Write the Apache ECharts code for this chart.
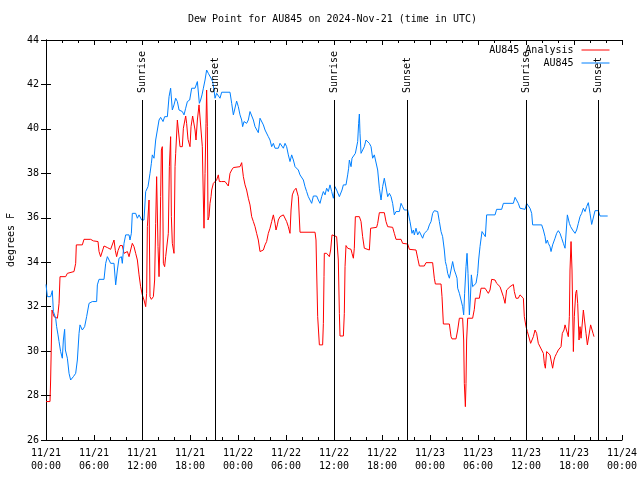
<!DOCTYPE html>
<html>
<head>
<meta charset="utf-8">
<script src="https://cdn.jsdelivr.net/npm/echarts@6/dist/echarts.min.js"></script>
<style>
html,body{margin:0;padding:0;background:#fff;}
#chart{width:640px;height:480px;}
</style>
</head>
<body>
<div id="chart"></div>
<script>
// ---- data (hours since 2024-11-21 00:00 UTC) ----
const titleText = 'Dew Point for AU845 on 2024-Nov-21 (time in UTC)';
const xTickLabels = ['11/21\n00:00','11/21\n06:00','11/21\n12:00','11/21\n18:00','11/22\n00:00','11/22\n06:00','11/22\n12:00','11/22\n18:00','11/23\n00:00','11/23\n06:00','11/23\n12:00','11/23\n18:00','11/24\n00:00'];
const seriesNames = ['AU845 Analysis', 'AU845'];

const analysisHours = [0,0.5,0.58,0.75,1.0,1.21,1.42,1.5,1.63,1.75,2.46,2.67,3.5,3.71,3.79,4.54,4.75,5.58,5.92,6.5,6.63,6.83,7.04,7.25,7.67,8.08,8.29,8.5,8.67,8.83,9.0,9.25,9.54,9.75,9.96,10.17,10.38,10.58,10.79,11.0,11.21,11.42,11.63,11.83,12.04,12.25,12.46,12.58,12.67,12.88,13.0,13.17,13.42,13.58,13.71,13.83,14.0,14.13,14.25,14.33,14.42,14.54,14.67,14.83,14.96,15.17,15.29,15.42,15.58,15.67,15.79,16.0,16.13,16.21,16.42,16.63,16.75,17.04,17.17,17.46,17.58,17.75,18.0,18.13,18.33,18.5,18.63,18.75,18.92,19.13,19.33,19.54,19.67,19.75,19.88,20.0,20.08,20.17,20.25,20.38,20.5,20.63,20.71,20.92,21.13,21.33,21.54,21.67,21.83,21.96,22.17,22.38,22.58,22.79,23.0,23.21,23.42,24.25,24.46,24.67,24.88,25.08,25.29,25.5,25.71,25.92,26.13,26.33,26.54,26.75,26.96,27.17,27.38,27.58,27.79,28.0,28.21,28.42,28.63,28.75,28.92,29.04,29.25,29.67,29.88,30.08,30.29,30.5,30.63,30.79,31.0,31.25,31.42,31.54,31.75,33.63,33.75,33.83,33.96,34.17,34.58,34.67,34.75,34.79,35.08,35.42,35.58,35.75,35.92,36.33,36.46,36.54,36.67,36.75,37.17,37.29,37.38,37.5,37.71,38.13,38.25,38.42,38.54,38.67,38.83,39.17,39.38,39.58,39.79,40.0,40.42,40.58,40.75,41.33,41.46,41.67,42.29,42.5,42.71,43.33,43.54,43.75,44.38,44.58,45.21,45.42,45.63,46.25,46.46,46.67,47.29,47.5,48.33,48.54,48.67,49.38,49.5,49.67,50.42,50.63,50.75,51.25,51.46,51.67,52.08,52.21,52.29,52.42,52.5,52.58,52.71,53.33,53.54,53.67,54.17,54.38,54.58,54.88,55.08,55.29,55.5,55.71,56.13,56.33,56.54,56.75,56.96,57.17,57.38,57.58,57.79,58.0,58.21,58.42,58.54,58.75,59.04,59.25,59.46,59.67,59.79,60.0,60.17,60.42,60.58,60.71,60.92,61.13,61.33,61.54,61.75,61.96,62.17,62.29,62.42,62.58,62.79,63.0,63.21,63.33,63.5,63.63,63.83,64.04,64.25,64.38,64.54,64.75,64.88,65.08,65.29,65.42,65.5,65.63,65.75,65.92,66.04,66.21,66.33,66.46,66.63,66.75,66.88,67.04,67.17,67.38,67.5,67.67,67.92,68.08,68.25,68.38,68.5];
const analysisValues = [27.73,27.73,28.7,31.85,31.55,31.48,31.48,31.7,32.15,33.35,33.35,33.5,33.58,33.95,34.78,34.78,35.03,35.03,34.96,34.93,34.48,34.25,34.25,34.73,34.66,34.58,34.55,35.0,34.52,34.25,34.52,34.75,34.75,34.4,34.36,34.48,34.25,34.55,34.85,34.7,34.4,34.1,33.43,32.9,32.53,32.3,32.0,32.6,35.6,36.8,32.45,32.33,32.45,33.2,35.75,37.85,34.7,33.35,35.0,36.95,39.05,39.2,33.95,33.8,34.25,34.18,35.3,38.3,39.65,36.05,34.85,34.4,38.3,38.9,40.4,40.33,39.2,39.2,40.03,40.58,40.25,39.53,39.2,40.1,40.58,40.58,39.95,39.5,40.4,41.08,41.08,39.2,36.8,35.53,38.0,40.25,41.75,40.1,35.9,36.05,36.65,36.95,37.25,37.55,37.63,37.7,37.93,37.63,37.55,37.63,37.55,37.63,37.58,37.43,38.0,38.15,38.26,38.3,38.48,37.85,37.48,37.25,36.88,36.58,36.05,35.83,35.6,35.3,35.0,34.48,34.4,34.55,34.78,34.93,35.3,35.53,35.83,36.13,35.75,35.45,35.68,35.9,36.05,36.13,36.05,35.83,35.6,35.3,36.35,37.03,37.22,37.33,37.33,36.95,35.35,35.35,35.0,33.65,31.55,30.28,30.28,31.25,33.35,34.4,34.4,34.25,34.55,35.23,35.3,35.15,35.15,34.1,31.7,30.68,30.68,31.7,33.8,34.75,34.63,34.58,34.4,34.18,34.63,36.05,36.08,36.05,35.83,35.15,34.63,34.55,34.55,35.53,35.57,35.57,35.75,36.23,36.23,35.83,35.6,35.57,35.3,35.03,35.03,34.85,34.82,34.58,34.55,34.55,34.18,33.83,33.83,33.98,33.98,33.28,33.02,33.02,32.45,31.22,31.22,30.65,30.55,30.55,30.95,31.48,31.48,30.5,28.55,27.5,28.55,30.5,31.48,31.48,31.88,32.38,32.38,32.83,32.87,32.83,32.75,32.6,32.75,33.23,33.2,33.05,32.98,32.9,32.83,32.45,32.15,32.75,32.83,32.9,32.83,33.0,32.68,32.38,32.38,32.53,32.6,32.38,31.55,31.1,30.88,30.95,30.35,30.28,30.65,30.95,30.8,30.35,30.28,30.05,29.9,29.45,29.23,29.98,29.9,29.83,29.83,29.23,29.6,29.75,29.9,30.05,29.98,30.2,30.8,30.95,31.18,31.18,30.65,31.55,33.65,34.93,33.65,29.98,31.55,32.6,32.75,32.15,30.5,31.1,30.58,30.5,31.85,31.85,30.8,30.28,30.28,31.18,31.25,30.8,30.65];

const au845Hours = [0,0.17,0.58,0.79,0.92,1.21,1.33,1.5,1.63,1.83,2.04,2.17,2.33,2.42,2.67,2.88,3.08,3.42,3.71,3.92,4.13,4.25,4.54,4.83,5.08,5.38,5.79,6.33,6.42,6.63,7.25,7.46,7.67,7.88,8.08,8.5,8.71,8.92,9.13,9.42,9.54,9.75,9.96,10.38,10.5,10.67,10.79,11.21,11.42,11.63,11.83,11.96,12.25,12.46,12.75,13.0,13.17,13.29,13.5,13.71,13.92,14.13,14.33,14.63,14.83,15.17,15.38,15.58,15.79,16.0,16.21,16.42,16.63,17.04,17.25,17.46,17.67,17.96,18.21,18.63,18.92,19.17,19.33,19.5,19.67,19.88,20.08,20.29,20.5,20.63,20.83,21.0,21.13,21.33,21.54,21.75,21.96,23.0,23.21,23.42,23.63,23.83,24.04,24.25,24.46,24.58,24.75,25.08,25.29,25.5,25.71,25.92,26.13,26.33,26.54,26.75,26.96,27.17,27.38,27.58,27.79,28.0,28.21,28.42,28.63,29.04,29.25,29.46,29.67,29.88,30.08,30.29,30.5,30.71,30.92,31.13,31.33,31.54,31.75,31.96,32.17,32.38,32.58,32.79,33.0,33.21,33.42,33.83,34.04,34.25,34.46,34.67,34.88,35.08,35.29,35.5,35.71,35.92,36.13,36.33,36.46,36.67,36.88,37.0,37.17,37.29,37.5,37.71,37.83,37.92,38.13,38.25,38.42,38.67,38.83,38.96,39.08,39.17,39.25,39.38,39.58,39.79,40.0,40.21,40.42,40.63,40.83,41.04,41.25,41.46,41.67,41.88,42.08,42.29,42.5,42.71,42.92,43.13,43.33,43.54,43.75,43.96,44.17,44.38,44.58,44.79,45.0,45.21,45.33,45.5,45.75,45.92,46.04,46.25,46.46,46.67,46.88,47.08,47.29,47.5,47.71,47.92,48.13,48.33,48.54,48.96,49.17,49.38,49.58,49.79,49.92,50.08,50.21,50.42,50.63,50.83,51.04,51.25,51.38,51.46,51.67,51.88,52.08,52.21,52.33,52.5,52.63,52.75,52.92,53.04,53.17,53.33,53.54,53.75,53.96,54.08,54.25,54.5,54.71,54.92,55.08,56.13,56.33,56.96,57.17,58.42,58.63,58.83,59.04,59.25,59.46,59.88,60.08,60.29,60.5,60.71,60.83,61.96,62.17,62.38,62.5,62.67,62.79,63.0,63.13,63.33,63.63,63.83,64.04,64.25,64.46,64.67,64.88,65.0,65.17,65.42,65.58,65.83,66.13,66.33,66.54,66.75,66.96,67.17,67.38,67.58,67.79,68.0,68.21,68.42,68.63,69.04,69.25,70.21];
const au845Values = [33.0,32.45,32.45,32.72,31.78,31.48,31.1,30.73,30.43,29.98,29.68,30.5,30.98,30.05,29.68,29.0,28.7,28.85,29.0,29.6,30.8,31.18,30.95,31.1,31.55,32.15,32.23,32.23,32.98,33.23,33.23,33.95,34.25,34.1,33.95,33.95,32.98,33.65,34.18,34.25,33.95,34.85,35.23,35.23,35.0,35.3,36.2,36.2,35.98,36.13,36.2,35.9,35.9,37.18,37.4,38.0,38.45,38.83,38.68,39.5,39.95,40.4,40.52,40.33,40.55,40.55,41.45,41.83,40.85,41.08,41.38,41.23,40.85,40.78,40.63,40.93,41.23,41.3,41.83,41.83,42.13,41.15,41.3,41.53,41.83,42.2,42.65,42.5,42.43,42.28,42.13,41.75,41.38,41.6,41.53,41.38,41.65,41.65,41.15,40.63,40.55,41.25,41.0,40.63,40.4,40.1,40.33,40.25,40.4,40.78,40.78,40.4,40.1,40.03,39.83,40.48,40.52,40.18,39.95,39.88,39.65,39.5,39.2,39.35,39.13,39.13,39.35,39.43,39.13,39.35,39.2,38.83,38.53,38.83,38.6,38.3,38.23,38.15,37.93,37.85,37.7,37.4,37.18,36.95,37.03,36.65,36.98,36.98,36.8,36.65,36.95,37.18,37.03,37.33,37.18,37.48,37.18,36.88,37.4,37.25,37.18,36.95,36.95,37.25,37.48,37.55,37.48,37.93,38.23,38.6,38.3,38.68,38.75,38.9,38.98,39.43,40.25,40.67,39.8,38.9,38.9,39.2,39.5,39.58,39.35,39.2,38.68,38.83,38.75,38.15,37.33,36.8,37.4,37.78,37.85,36.95,37.1,36.95,36.65,36.13,36.28,36.35,36.28,36.65,36.5,36.35,36.43,36.35,36.43,35.83,35.3,35.45,35.23,35.53,35.23,35.38,35.45,35.08,35.3,35.3,35.45,35.68,35.83,36.2,36.32,36.28,35.83,35.38,35.15,34.55,34.03,33.8,33.5,33.28,33.65,34.03,33.65,33.43,33.28,32.83,32.6,32.3,32.0,31.63,32.6,33.8,34.4,33.5,31.63,32.3,33.43,32.9,32.83,33.05,33.5,34.1,34.7,35.38,35.3,35.15,36.13,36.13,36.38,36.38,36.65,36.65,36.92,36.92,36.65,36.43,36.38,36.38,36.65,36.58,36.43,36.2,35.68,35.68,35.45,35.15,34.85,35.0,34.85,34.7,34.48,34.78,35.08,35.3,35.42,35.3,35.08,34.85,34.63,34.63,36.13,35.75,35.6,35.45,35.3,35.45,35.75,36.05,36.2,36.43,36.28,36.5,36.68,36.2,35.7,35.7,36.32,36.32,36.08,36.08];

const sunEventHours = [12.0, 21.17, 36.0, 45.17, 60.0, 69.04];
const sunEventLabels = ['Sunrise', 'Sunset', 'Sunrise', 'Sunset', 'Sunrise', 'Sunset'];

// ---- chart ----
const FONT = 'DejaVu Sans Mono';
const SUN_LINE_TOP = 41.3;
const chart = echarts.init(document.getElementById('chart'), null, {renderer: 'canvas'});

function pairs(hs, vs) { return hs.map((h, i) => [h, vs[i]]); }

const axisCommonX = {
  type: 'value', min: 0, max: 72, interval: 6,
  axisLine: {show: true, lineStyle: {color: '#000', width: 1}},
  axisTick: {show: true, inside: true, length: 5, lineStyle: {color: '#000'}},
  minorTick: {show: true, splitNumber: 3, length: 3, lineStyle: {color: '#000'}},
  splitLine: {show: false}
};
const axisCommonY = {
  type: 'value', min: 26, max: 44, interval: 2,
  axisLine: {show: true, lineStyle: {color: '#000', width: 1}},
  axisTick: {show: true, inside: true, length: 5, lineStyle: {color: '#000'}},
  splitLine: {show: false}
};

chart.setOption({
  animation: false,
  backgroundColor: '#fff',
  textStyle: {fontFamily: FONT},
  title: {
    text: titleText, left: 188, top: 13, padding: 0,
    textStyle: {fontFamily: FONT, fontSize: 10, fontWeight: 'normal', color: '#000', lineHeight: 12}
  },
  legend: {
    show: true, type: 'plain',
    data: seriesNames, orient: 'vertical', top: 45, right: 30,
    padding: 0, align: 'right', itemGap: 3,
    itemWidth: 28, itemHeight: 10,
    itemStyle: {opacity: 0, borderWidth: 0},
    lineStyle: {width: 1},
    textStyle: {fontFamily: FONT, fontSize: 10, color: '#000', padding: [0, 3, 0, 0]}
  },
  grid: {left: 46, right: 18, top: 40, bottom: 40, containLabel: false, outerBoundsMode: 'none'},
  xAxis: [
    Object.assign({}, axisCommonX, {
      position: 'bottom',
      axisLabel: {show: true, margin: 7, fontFamily: FONT, fontSize: 10, color: '#000', lineHeight: 13,
        formatter: v => xTickLabels[Math.round(v / 6)]}
    }),
    Object.assign({}, axisCommonX, {position: 'top', axisLabel: {show: false}})
  ],
  yAxis: [
    Object.assign({}, axisCommonY, {
      position: 'left', name: 'degrees F', nameLocation: 'middle', nameGap: 29, nameRotate: 90,
      nameTextStyle: {fontFamily: FONT, fontSize: 10, color: '#000'},
      axisLabel: {show: true, margin: 7, fontFamily: FONT, fontSize: 10, color: '#000'}
    }),
    Object.assign({}, axisCommonY, {position: 'right', axisLabel: {show: false}})
  ],
  series: [
    {
      name: seriesNames[0], type: 'line', xAxisIndex: 0, yAxisIndex: 0,
      data: pairs(analysisHours, analysisValues),
      showSymbol: false, symbol: 'none',
      lineStyle: {color: '#ff0000', width: 1}, itemStyle: {color: '#ff0000'}
    },
    {
      name: seriesNames[1], type: 'line', xAxisIndex: 0, yAxisIndex: 0,
      data: pairs(au845Hours, au845Values),
      showSymbol: false, symbol: 'none',
      lineStyle: {color: '#0080ff', width: 1}, itemStyle: {color: '#0080ff'},
      markLine: {
        silent: true, symbol: ['none', 'none'], animation: false,
        label: {show: false},
        lineStyle: {color: '#000', width: 1, type: 'solid'},
        emphasis: {disabled: true},
        data: sunEventHours.map(h => [{coord: [h, 26]}, {coord: [h, SUN_LINE_TOP]}])
      }
    }
  ]
});

const graphics = sunEventHours.map((h, i) => {
  const p = chart.convertToPixel({xAxisIndex: 0, yAxisIndex: 0}, [h, SUN_LINE_TOP]);
  return {
    type: 'text', x: p[0] + 0.5, y: p[1] - 7, rotation: Math.PI / 2, silent: true, z: 100,
    style: {text: sunEventLabels[i], fill: '#000', font: '10px "' + FONT + '"', textAlign: 'left', textVerticalAlign: 'middle'}
  };
});
chart.setOption({graphic: graphics});
</script>
</body>
</html>
